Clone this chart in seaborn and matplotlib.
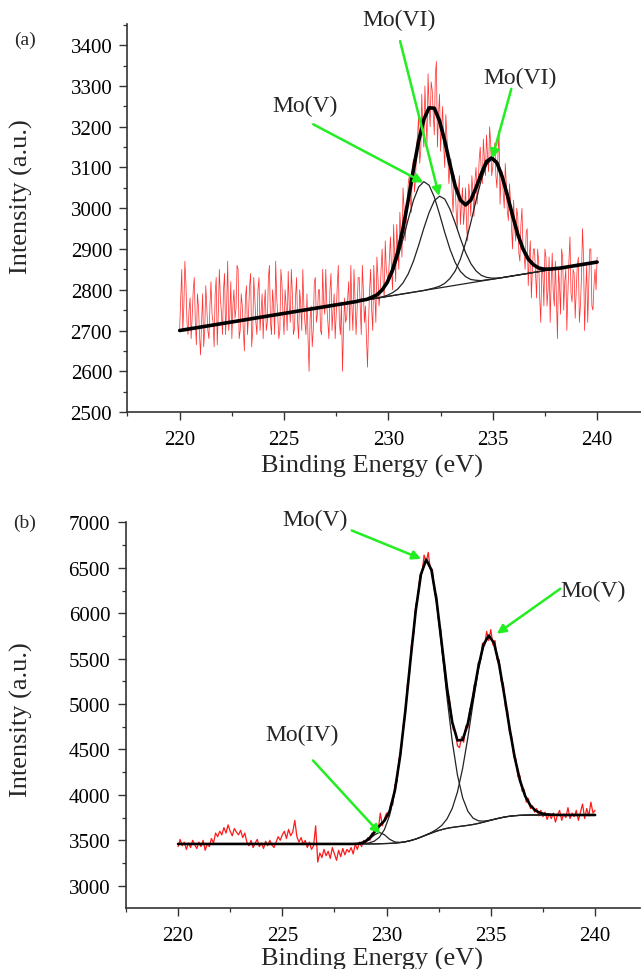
import numpy as np
import matplotlib
matplotlib.use("Agg")
import matplotlib.pyplot as plt
import seaborn as sns
from matplotlib.ticker import MultipleLocator

# ---------------- data ----------------
# raw spectrum (a): values at 220.0, 220.1, ... 240.0 eV
raw_start, raw_stop = 220.0, 240.0
raw_a = [2705, 2850, 2760, 2815, 2690, 2780, 2735, 2830, 2665, 2760,
         2640, 2790, 2700, 2755, 2680, 2820, 2720, 2790, 2665, 2850,
         2745, 2800, 2690, 2870, 2735, 2680, 2800, 2755, 2850, 2700,
         2760, 2650, 2810, 2740, 2840, 2700, 2780, 2690, 2830, 2745,
         2680, 2800, 2720, 2860, 2690, 2760, 2870, 2735, 2700, 2815,
         2690, 2760, 2845, 2720, 2790, 2705, 2830, 2680, 2765, 2850,
         2720, 2790, 2600, 2760, 2700, 2830, 2740, 2800, 2690, 2770,
         2850, 2720, 2800, 2700, 2790, 2740, 2860, 2690, 2600, 2780,
         2730, 2820, 2860, 2700, 2780, 2750, 2830, 2690, 2800, 2760,
         2610, 2800, 2750, 2860, 2720, 2830, 2790, 2900, 2780, 2850,
         2820, 2930, 2800, 2880, 2960, 2850, 2940, 3050, 2920, 3000,
         3080, 2990, 3120, 3070, 3180, 3110, 3280, 3150, 3220, 3330,
         3200, 3290, 3180, 3360, 3230, 3140, 3250, 3100, 3180, 3060,
         3120, 2990, 3060, 2950, 3080, 3010, 2960, 3050, 2920, 3030,
         3080, 2980, 3100, 3050, 3150, 3060, 3120, 3180, 3090, 3160,
         3100, 3160, 3050, 3190, 3080, 3040, 3110, 2990, 3060, 2950,
         3020, 2920, 2980, 2870, 3000, 2890, 2940, 2810, 2920, 2850,
         2900, 2780, 2870, 2720, 2840, 2900, 2760, 2880, 2820, 2790,
         2870, 2680, 2810, 2900, 2750, 2850, 2790, 2930, 2770, 2840,
         2800, 2880, 2760, 2950, 2700, 2860, 2810, 2900, 2750, 2850,
         2880]
# raw spectrum (a): values at the half steps 220.05, 220.15, ... 239.95 eV
raw_a_mid = [2780, 2700, 2870, 2720, 2750, 2680, 2800, 2720, 2790, 2690,
             2720, 2660, 2810, 2700, 2760, 2740, 2660, 2830, 2740, 2780,
             2690, 2840, 2760, 2700, 2820, 2760, 2730, 2860, 2680, 2790,
             2700, 2780, 2690, 2810, 2660, 2830, 2720, 2800, 2700, 2790,
             2760, 2700, 2830, 2720, 2800, 2690, 2780, 2680, 2850, 2740,
             2800, 2700, 2760, 2850, 2690, 2780, 2720, 2800, 2700, 2760,
             2690, 2680, 2730, 2660, 2820, 2720, 2800, 2700, 2850, 2740,
             2760, 2680, 2840, 2750, 2680, 2810, 2720, 2770, 2700, 2720,
             2780, 2700, 2760, 2850, 2690, 2830, 2760, 2860, 2720, 2680,
             2720, 2850, 2700, 2790, 2880, 2760, 2850, 2820, 2920, 2830,
             2880, 2850, 2960, 2820, 2900, 2990, 2880, 3000, 2960, 3060,
             3020, 3100, 3040, 3150, 3230, 3140, 3190, 3300, 3160, 3250,
             3310, 3230, 3330, 3150, 3280, 3200, 3150, 3230, 3120, 3100,
             3040, 3080, 2990, 3040, 2960, 3050, 3000, 2950, 3060, 2980,
             3040, 3070, 3010, 3120, 3090, 3170, 3080, 3130, 3200, 3080,
             3140, 3080, 3130, 3010, 3090, 3000, 3060, 2970, 3020, 2900,
             2950, 3000, 2890, 2960, 2900, 2850, 2950, 2880, 2780, 2900,
             2840, 2900, 2780, 2850, 2760, 2880, 2800, 2720, 2890, 2760,
             2780, 2850, 2740, 2880, 2820, 2700, 2870, 2790, 2850, 2730,
             2860, 2720, 2830, 2880, 2790, 2720, 2900, 2760, 2810, 2800]
# raw spectrum (b): values at 220.0, 220.1, ... 240.0 eV
raw_b = [3430, 3510, 3440, 3480, 3400, 3470, 3420, 3500, 3450, 3410,
         3480, 3430, 3500, 3390, 3460, 3430, 3520, 3470, 3580, 3540,
         3600, 3560, 3640, 3580, 3670, 3600, 3550, 3630, 3590, 3560,
         3610, 3530, 3580, 3480, 3440, 3500, 3420, 3470, 3510, 3430,
         3470, 3410, 3490, 3440, 3500, 3450, 3420, 3480, 3540, 3500,
         3560, 3600, 3520, 3620, 3550, 3590, 3720, 3540, 3480, 3530,
         3460, 3500, 3420, 3480, 3400, 3440, 3660, 3260, 3360, 3310,
         3400, 3330, 3380, 3300, 3420, 3350, 3280, 3390, 3320, 3410,
         3340, 3400, 3370, 3420, 3350, 3460, 3400, 3480, 3430, 3500,
         3470, 3530, 3500, 3580, 3560, 3640, 3610, 3800, 3660, 3740,
         3800, 3760, 3900, 3890, 4110, 4140, 4400, 4470, 4770, 4880,
         5220, 5330, 5670, 5770, 6090, 6170, 6420, 6440, 6640, 6560,
         6670, 6480, 6480, 6240, 6200, 5900, 5820, 5500, 5420, 5120,
         5080, 4900, 4720, 4700, 4540, 4520, 4640, 4580, 4760, 4740,
         4950, 4970, 5210, 5230, 5460, 5470, 5670, 5640, 5800, 5700,
         5820, 5650, 5700, 5490, 5490, 5250, 5230, 4970, 4930, 4680,
         4640, 4420, 4400, 4200, 4210, 4040, 4060, 3920, 3960, 3850,
         3880, 3810, 3850, 3770, 3830, 3760, 3810, 3730, 3790, 3740,
         3800, 3700, 3780, 3830, 3720, 3790, 3750, 3860, 3740, 3800,
         3760, 3830, 3720, 3810, 3900, 3740, 3850, 3770, 3920, 3800,
         3830]

# fitted curves (component heights above background) on a 0.25 eV grid
fit_step = 0.25
fit_start_a, fit_count_a = 228.45, 41
fit_start_b, fit_count_b = 228.15, 45

bg_a_energy = [220.0, 240.0]
bg_a_level = [2700, 2868]
peak_a_mo5 = [0, 1, 1, 4, 8, 17, 32, 56, 91, 134,
              181, 225, 256, 267, 256, 225, 181, 134, 91, 56,
              32, 17, 8, 4, 1, 1, 0, 0, 0, 0,
              0, 0, 0, 0, 0, 0, 0, 0, 0, 0, 0]
peak_a_mo6_low = [0, 0, 0, 0, 0, 1, 3, 7, 14, 27,
                  47, 76, 113, 153, 189, 216, 225, 216, 189, 153,
                  113, 76, 47, 27, 14, 7, 3, 1, 0, 0,
                  0, 0, 0, 0, 0, 0, 0, 0, 0, 0, 0]
peak_a_mo6_high = [0, 0, 0, 0, 0, 0, 0, 0, 0, 0,
                   0, 0, 0, 0, 1, 2, 4, 9, 19, 35,
                   62, 100, 148, 200, 248, 283, 295, 283, 248, 200,
                   148, 100, 62, 35, 19, 9, 4, 2, 1, 0, 0]

bg_b_ends = [3460, 3779]
bg_b = [3460, 3460, 3460, 3460, 3460, 3460, 3462, 3464, 3466, 3469,
        3475, 3484, 3497, 3514, 3535, 3558, 3580, 3601, 3618, 3632,
        3642, 3650, 3657, 3665, 3674, 3686, 3700, 3715, 3730, 3744,
        3756, 3765, 3771, 3775, 3777, 3778, 3779, 3779, 3779, 3779,
        3779, 3779, 3779, 3779, 3779]
peak_b_mo4 = [0, 0, 2, 13, 45, 97, 125, 97, 45, 13,
              2, 0, 0, 0, 0, 0, 0, 0, 0, 0,
              0, 0, 0, 0, 0, 0, 0, 0, 0, 0,
              0, 0, 0, 0, 0, 0, 0, 0, 0, 0,
              0, 0, 0, 0, 0]
peak_b_mo5_low = [0, 0, 1, 4, 11, 29, 70, 155, 311, 568,
                  948, 1440, 1994, 2516, 2892, 3030, 2892, 2516, 1994, 1440,
                  948, 568, 311, 155, 70, 29, 11, 4, 1, 0,
                  0, 0, 0, 0, 0, 0, 0, 0, 0, 0,
                  0, 0, 0, 0, 0]
peak_b_mo5_high = [0, 0, 0, 0, 0, 0, 0, 0, 0, 0,
                   0, 0, 0, 0, 1, 3, 7, 19, 47, 104,
                   209, 382, 637, 967, 1339, 1690, 1943, 2035, 1943, 1690,
                   1339, 967, 637, 382, 209, 104, 47, 19, 7, 3,
                   1, 0, 0, 0, 0]

xticks = [220, 225, 230, 235, 240]
yticks_a = [2500, 2600, 2700, 2800, 2900, 3000, 3100, 3200, 3300, 3400]
yticks_b = [3000, 3500, 4000, 4500, 5000, 5500, 6000, 6500, 7000]

labels_a = ["Mo(V)", "Mo(VI)", "Mo(VI)"]
labels_b = ["Mo(V)", "Mo(V)", "Mo(IV)"]

# ---------------- layout / style ----------------
sns.set_theme(style="ticks")
plt.rcParams['font.family'] = ['Liberation Serif', 'DejaVu Serif']
plt.rcParams['axes.edgecolor'] = '#333333'

fig = plt.figure(figsize=(6.41, 9.70), dpi=100)
ax_a = fig.add_axes([0.1989, 0.5742, 0.801, 0.400])
ax_b = fig.add_axes([0.1958, 0.0629, 0.8028, 0.398])

GREEN = '#22ee22'
# (text pos, arrow start, arrow tip)
ann_pos_a = [((226.0, 3252), (226.4, 3206), (231.68, 3063)),
             ((230.5, 3462), (230.56, 3410), (232.43, 3030)),
             ((236.3, 3322), (235.89, 3293), (234.97, 3122))]
ann_pos_b = [((226.56, 7030), (228.33, 6911), (231.66, 6599)),
             ((239.9, 6255), (238.33, 6269), (235.29, 5774)),
             ((225.97, 4660), (226.47, 4379), (229.70, 3572))]


def draw_panel(ax, e_raw, raw, grid, bg, peaks, bg_ends, raw_lw, raw_alpha, env_lw):
    sns.lineplot(x=e_raw, y=np.asarray(raw, float), ax=ax, color='#ff0000',
                 linewidth=raw_lw, alpha=raw_alpha, estimator=None, sort=False,
                 zorder=1)
    bg = np.asarray(bg, float)
    sns.lineplot(x=grid, y=bg, ax=ax, color='#222222', linewidth=0.9,
                 estimator=None, sort=False, zorder=2)
    total = bg.copy()
    for p in peaks:
        p = np.asarray(p, float)
        total = total + p
        sns.lineplot(x=grid, y=bg + p, ax=ax, color='#222222', linewidth=0.9,
                     estimator=None, sort=False, zorder=2)
    env_x = np.concatenate([[raw_start], grid, [raw_stop]])
    env_y = np.concatenate([[bg_ends[0]], total, [bg_ends[1]]])
    sns.lineplot(x=env_x, y=env_y, ax=ax, color='black', linewidth=env_lw,
                 estimator=None, sort=False, zorder=3)


# interleave the two read-off series of panel (a)
raw_a_all = np.empty(len(raw_a) + len(raw_a_mid))
raw_a_all[0::2] = raw_a
raw_a_all[1::2] = raw_a_mid
e_raw_a = np.linspace(raw_start, raw_stop, len(raw_a_all))
e_raw_b = np.linspace(raw_start, raw_stop, len(raw_b))

grid_a = fit_start_a + fit_step * np.arange(fit_count_a)
grid_b = fit_start_b + fit_step * np.arange(fit_count_b)
bg_a_grid = np.interp(grid_a, bg_a_energy, bg_a_level)

draw_panel(ax_a, e_raw_a, raw_a_all, grid_a, bg_a_grid,
           [peak_a_mo5, peak_a_mo6_low, peak_a_mo6_high],
           bg_a_level, 0.55, 0.8, 2.6)
draw_panel(ax_b, e_raw_b, raw_b, grid_b, bg_b,
           [peak_b_mo4, peak_b_mo5_low, peak_b_mo5_high],
           bg_b_ends, 0.9, 0.9, 1.9)

for ax, yt, ylim, xlim, minor_y in [
        (ax_a, yticks_a, (2500, 3452), (217.5, 242.1), 50),
        (ax_b, yticks_b, (2755, 7005), (217.48, 242.16), 250)]:
    ax.set_xlim(*xlim)
    ax.set_ylim(*ylim)
    ax.set_xticks(xticks)
    ax.set_yticks(yt)
    ax.xaxis.set_minor_locator(MultipleLocator(2.5))
    ax.yaxis.set_minor_locator(MultipleLocator(minor_y))
    ax.tick_params(which='major', direction='out', length=6, width=1.0,
                   color='#333333', labelsize=15, labelcolor='black')
    ax.tick_params(axis='y', which='major', pad=5)
    ax.tick_params(axis='x', which='major', pad=7)
    ax.tick_params(which='minor', direction='out', length=3, width=0.9,
                   color='#333333')
    sns.despine(ax=ax)
    for s in ('left', 'bottom'):
        ax.spines[s].set_linewidth(1.2)
        ax.spines[s].set_color('#333333')
    ax.set_xlabel("Binding Energy (eV)", fontsize=19)
    ax.set_ylabel("Intensity (a.u.)", fontsize=19)

ax_a.xaxis.set_label_coords(0.476, -0.108)
ax_a.yaxis.set_label_coords(-0.184, 0.557)
ax_b.xaxis.set_label_coords(0.479, -0.100)
ax_b.yaxis.set_label_coords(-0.180, 0.49)

for ax, labels, poss in [(ax_a, labels_a, ann_pos_a), (ax_b, labels_b, ann_pos_b)]:
    for lab, (tp, st, tip) in zip(labels, poss):
        ax.text(tp[0], tp[1], lab, fontsize=17, ha='center', va='center',
                clip_on=False, zorder=5)
        ax.annotate('', xy=tip, xytext=st, annotation_clip=False,
                    arrowprops=dict(arrowstyle='-|>', color=GREEN, lw=1.8,
                                    mutation_scale=13, shrinkA=0, shrinkB=0),
                    zorder=5)

fig.text(25 / 641, 1 - 40 / 970, "(a)", fontsize=14, ha='center', va='center')
fig.text(25 / 641, 1 - 523 / 970, "(b)", fontsize=14, ha='center', va='center')

fig.savefig("out.png", dpi=100)
